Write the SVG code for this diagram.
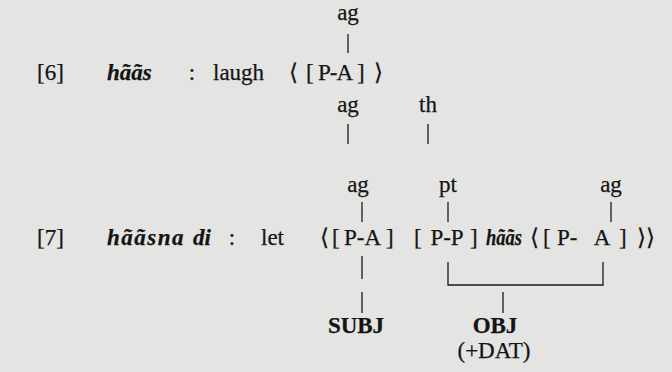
<svg xmlns="http://www.w3.org/2000/svg" width="672" height="372" viewBox="0 0 672 372">
<style>
text{font-family:"Liberation Serif","DejaVu Serif",serif;font-size:23px;fill:#141414;stroke:#141414;stroke-width:0.25}
.b{font-weight:bold}
.bi{font-weight:bold;font-style:italic}
.m{text-anchor:middle}
.c line,.c polyline{stroke:#1a1a1a;stroke-width:1.3;fill:none}
</style>
<rect width="672" height="372" fill="#e4e4e2"/>
<g id="ex6">
<text x="37" y="80">[6]</text>
<text x="107" y="80" class="bi">hããs</text>
<text x="192" y="80" class="m">:</text>
<text x="213" y="80">laugh</text>
<text x="289" y="80">⟨</text>
<text x="306" y="80">[</text>
<text x="318" y="80" textLength="35" lengthAdjust="spacing">P-A</text>
<text x="357" y="80">]</text>
<text x="374" y="80">⟩</text>
</g>
<g id="roles6">
<text x="348" y="20" class="m">ag</text>
<text x="348" y="112" class="m">ag</text>
<text x="428" y="112" class="m">th</text>
</g>
<g id="ex7">
<text x="37" y="245">[7]</text>
<text x="107" y="245" class="bi" letter-spacing="1.5">hããsna</text>
<text x="193" y="245" class="bi">di</text>
<text x="232" y="245" class="m">:</text>
<text x="261" y="245">let</text>
<text x="320" y="245">⟨</text>
<text x="332" y="245">[</text>
<text x="344" y="245" textLength="37" lengthAdjust="spacing">P-A</text>
<text x="386" y="245">]</text>
<text x="414" y="245">[</text>
<text x="447" y="245" class="m">P-P</text>
<text x="470" y="245">]</text>
<text x="486" y="245" class="bi" textLength="36" lengthAdjust="spacingAndGlyphs">hããs</text>
<text x="530" y="245">⟨</text>
<text x="543" y="245">[</text>
<text x="557" y="245">P-</text>
<text x="602" y="245" class="m">A</text>
<text x="619" y="245">]</text>
<text x="637" y="245">⟩⟩</text>
</g>
<g id="roles7">
<text x="358" y="192" class="m">ag</text>
<text x="448" y="192" class="m">pt</text>
<text x="611" y="192" class="m">ag</text>
</g>
<g id="functions">
<text x="356" y="333" class="m b">SUBJ</text>
<text x="495" y="333" class="m b">OBJ</text>
<text x="494" y="358" class="m">(+DAT)</text>
</g>
<g id="connectors" class="c">
<line x1="348" y1="34" x2="348" y2="53"/>
<line x1="348" y1="124" x2="348" y2="144"/>
<line x1="428" y1="124" x2="428" y2="144"/>
<line x1="362" y1="202" x2="362" y2="222"/>
<line x1="448" y1="202" x2="448" y2="222"/>
<line x1="611" y1="202" x2="611" y2="222"/>
<line x1="362" y1="256" x2="362" y2="279"/>
<line x1="362" y1="292" x2="362" y2="313"/>
<polyline points="448,262 448,285 603,285 603,262"/>
<line x1="503" y1="292" x2="503" y2="313"/>
</g>
</svg>
